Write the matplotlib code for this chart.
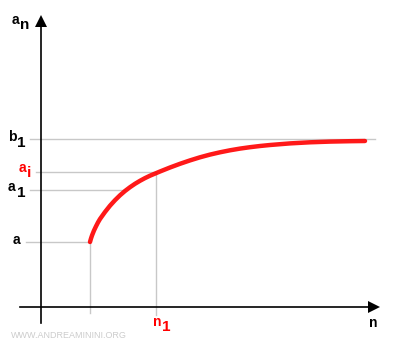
import matplotlib
matplotlib.use("Agg")
import matplotlib.pyplot as plt

# curve (pixel coords, y grows downward)
curve_x = [90, 91, 92, 94, 96, 98, 100, 105, 110, 115, 120, 125, 130, 135, 140, 145, 150, 160,
           170, 180, 190, 200, 210, 220, 230, 240, 250, 260, 270, 290, 310, 330, 350, 365]
curve_y = [242, 238.5, 235.5, 230.5, 226.3, 222.4, 219, 212, 205.7, 200.2, 195.3, 191, 187.2, 183.8,
           180.8, 178.1, 175.7, 171.5, 167.5, 163.8, 160.4, 157.3, 154.6, 152.3, 150.3, 148.6, 147.2,
           146, 145, 143.4, 142.3, 141.6, 141.2, 141]

# guide levels
level_y = {"b": 139, "ai": 172, "a1": 190, "a": 242}
n_start, n1 = 90, 156
axis_x, axis_y = 41, 307

red = "#ff0000"
grey = "#c8c8c8"

fig = plt.figure(figsize=(4, 3.5), dpi=100)
ax = fig.add_axes([0, 0, 1, 1])
ax.set_xlim(0, 400)
ax.set_ylim(350, 0)
ax.axis("off")

# grey guide lines
ax.plot([30, 375], [level_y["b"]] * 2, color=grey, lw=1)
ax.plot([36, n1], [level_y["ai"]] * 2, color=grey, lw=1)
ax.plot([30, 125], [level_y["a1"]] * 2, color=grey, lw=1)
ax.plot([26, n_start], [level_y["a"]] * 2, color=grey, lw=1)
ax.plot([n_start, n_start], [level_y["a"], 313], color=grey, lw=1)
ax.plot([n1, n1], [level_y["ai"], 315], color=grey, lw=1)

# axes with arrows
ax.plot([axis_x, axis_x], [24, 323], color="black", lw=1.2)
ax.plot([20, 372], [axis_y, axis_y], color="black", lw=1.2)
ax.plot([axis_x], [21], marker="^", color="black", ms=8, mew=0)
ax.plot([374], [axis_y], marker=">", color="black", ms=8, mew=0)

# curve
ax.plot(curve_x, curve_y, color=red, lw=3.2, solid_capstyle="round",
        solid_joinstyle="round", alpha=0.9)

fnt = dict(fontfamily="Liberation Sans", fontweight="bold", fontsize=10, va="center")
sub = dict(fontfamily="Liberation Sans", fontweight="bold", fontsize=11, va="center")

ax.text(12, 20, "a", **fnt)
ax.text(20, 25, "n", **sub)
ax.text(8, 137, "b", **fnt)
ax.text(17, 143, "1", **sub)
ax.text(19, 168, "a", color=red, **fnt)
ax.text(27, 173, "i", color=red, **sub)
ax.text(8, 187, "a", **fnt)
ax.text(17, 193, "1", **sub)
ax.text(13, 240, "a", **fnt)
ax.text(153, 322, "n", color=red, **fnt)
ax.text(162, 327, "1", color=red, **sub)
ax.text(369, 323, "n", **fnt)
ax.text(11, 335, "WWW.ANDREAMININI.ORG", color="#cccccc", fontsize=6.5,
        fontfamily="Liberation Sans", va="center")

fig.savefig("out.png", dpi=100)
